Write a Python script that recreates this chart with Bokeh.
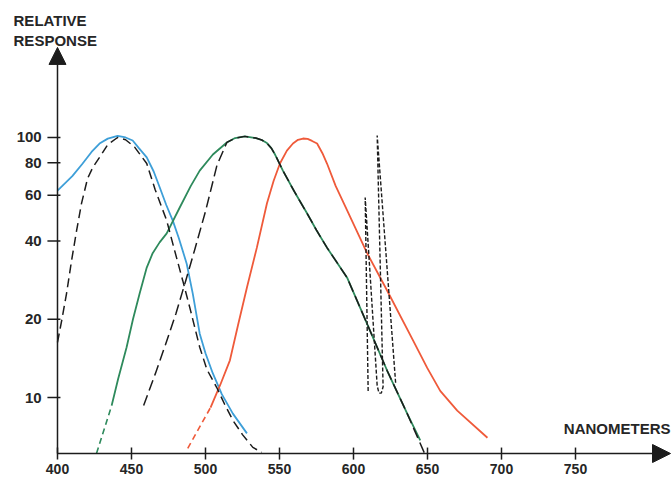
from bokeh.plotting import figure
from bokeh.models import Range1d, Arrow, NormalHead, Label
from bokeh.core.properties import value
from bokeh.embed import file_html
from bokeh.resources import INLINE

# ---- data ----
x_ticks = [400, 450, 500, 550, 600, 650, 700, 750]
x_tick_labels = ["400", "450", "500", "550", "600", "650", "700", "750"]
y_ticks = [10, 20, 40, 60, 80, 100]
y_tick_labels = ["10", "20", "40", "60", "80", "100"]

blue_x = [400, 410, 417, 423, 428.4, 434, 440.6, 446, 450.8, 455, 460.3, 465, 469.1, 473.5, 477.9,
          482, 487.3, 491.4, 496.1, 500, 504.9, 511, 518.5, 528]
blue_y = [62.5, 71, 79.4, 88, 94.8, 99, 101.5, 100, 97.4, 91, 83.8, 74, 64.2, 55, 47.9,
          41, 32.7, 25.1, 17.6, 14.8, 12.4, 10.3, 8.67, 7.28]

green_dash_x = [426.4, 436.6]
green_dash_y = [6.1, 9.31]
green_x = [436.6, 441, 446.7, 451, 455.5, 460.3, 464.3, 469, 473.8, 482.6, 490, 496.1, 505, 514.4,
           520, 526.6, 534, 538, 541.5, 544.5, 547, 552.3, 560, 568.6, 575, 582.1, 595.7, 609.2,
           622.7, 636.3, 645.1]
green_y = [9.31, 11.8, 15.6, 20, 25.1, 31.6, 35.9, 39.5, 42.8, 53.8, 65, 74.6, 86, 95.7,
           99.5, 101, 99.5, 97.8, 95.2, 91, 86, 74.6, 62, 51.1, 44, 37.7, 28.9, 19.2,
           12.7, 8.67, 6.84]

red_dash_x = [488, 503.4]
red_dash_y = [6.37, 9.15]
red_x = [503.4, 510, 516.5, 522, 528, 534.7, 541.5, 546, 550.3, 555, 559.1, 562.5, 565.9, 569, 572,
         575.4, 579, 582.1, 588, 595.7, 609.2, 622.7, 640.4, 649.8, 658.6, 670.1, 690.5]
red_y = [9.15, 11.2, 13.9, 19, 26.5, 37.7, 55.7, 68, 79.4, 89, 94.8, 98, 99.1, 98.8, 97,
         94.8, 87, 79.4, 65, 52.4, 35.9, 25.8, 16.5, 13.0, 10.6, 8.9, 7.0]

dash1_x = [400, 403, 406.1, 409.5, 412.9, 416.2, 420.3, 424, 428.4, 434, 440.6, 446, 452, 460.3, 466,
           473.8, 479, 484.6, 490, 496.1, 501, 507.7, 513, 518.5, 525, 532, 538]
dash1_y = [16.3, 20, 25.1, 33.6, 43.8, 55.7, 69.5, 77, 83.8, 94, 100, 98, 92, 79.4, 63,
           47.9, 37, 28.2, 21.5, 15.6, 12.8, 10.9, 9.4, 8.17, 7.2, 6.43, 6.15]

dash2_x = [458.2, 466, 473, 480, 486.7, 493, 500, 507.7, 514.4, 520, 526.6, 534, 538, 541.5, 544.5,
           547, 552.3, 560, 568.6, 575, 582.1, 595.7, 609.2, 622.7, 636.3, 648]
dash2_y = [9.31, 12.3, 16, 21, 28.2, 37.5, 52, 78, 95.7, 99.5, 101, 99.5, 97.8, 95.2, 91,
           86, 74.6, 62, 51.1, 44, 37.7, 28.9, 19.2, 12.7, 8.67, 6.1]

zig_x = [609.9, 607.9, 616.0, 617.2, 618.8, 620.0, 616.0, 628.5]
zig_y = [10.6, 58.8, 11.1, 10.4, 10.4, 11.0, 101.8, 11.3]

# ---- styling ----
BLUE = "#3e9fd8"
GREEN = "#2e8a5c"
RED = "#ef5a3a"
INK = "#1c1c1c"
TXT = "#262626"
FONT = "Liberation Sans"

# data extent of the whole canvas (frame fills the figure)
XL, XR = 361.49, 815.54
YB, YT = 4.838, 336.4
AX_X = 400          # y axis position
AX_Y = 6.09         # x axis position
Y_TOP = 222         # y-axis arrow tip
X_END = 814.2       # x-axis arrow tip

p = figure(width=672, height=479, y_axis_type="log",
           x_range=Range1d(XL, XR), y_range=Range1d(YB, YT),
           x_axis_location=None, y_axis_location=None,
           output_backend="svg", toolbar_location=None, min_border=0)
p.outline_line_color = None
p.background_fill_color = "white"
p.border_fill_color = "white"
p.xgrid.grid_line_color = None
p.ygrid.grid_line_color = None

# coloured curves
p.line(blue_x, blue_y, line_color=BLUE, line_width=1.8)
p.line(green_dash_x, green_dash_y, line_color=GREEN, line_width=1.6, line_dash="6 4")
p.line(green_x, green_y, line_color=GREEN, line_width=1.8)
p.line(red_dash_x, red_dash_y, line_color=RED, line_width=1.6, line_dash="6 4")
p.line(red_x, red_y, line_color=RED, line_width=1.8)

# black dashed curves
p.line(dash1_x, dash1_y, line_color=INK, line_width=1.5, line_dash="9 5")
p.line(dash2_x, dash2_y, line_color=INK, line_width=1.5, line_dash="11 5")
p.line(zig_x, zig_y, line_color=INK, line_width=1.4, line_dash="4 2")

# axes (lines with arrow heads)
p.add_layout(Arrow(end=NormalHead(size=17, fill_color=INK, line_color=INK, line_width=1),
                   x_start=AX_X, y_start=AX_Y, x_end=AX_X, y_end=Y_TOP,
                   line_color=INK, line_width=1.5))
p.add_layout(Arrow(end=NormalHead(size=18, fill_color=INK, line_color=INK, line_width=1),
                   x_start=AX_X, y_start=AX_Y, x_end=X_END, y_end=AX_Y,
                   line_color=INK, line_width=1.5))

# ticks
p.segment(x0=[393.2] * len(y_ticks), y0=y_ticks, x1=[402.0] * len(y_ticks), y1=y_ticks,
          line_color=INK, line_width=1.5)
p.segment(x0=x_ticks, y0=[6.42] * len(x_ticks), x1=x_ticks, y1=[5.77] * len(x_ticks),
          line_color=INK, line_width=1.5)

# tick labels
p.text(x=[389.3] * len(y_ticks), y=y_ticks, text=y_tick_labels,
       text_font=value(FONT), text_font_style="bold", text_font_size="15px",
       text_color=TXT, text_align="right", text_baseline="middle")
p.text(x=x_ticks, y=[5.30] * len(x_ticks), text=x_tick_labels,
       text_font=value(FONT), text_font_style="bold", text_font_size="14px",
       text_color=TXT, text_align="center", text_baseline="middle")

# axis titles
p.add_layout(Label(x=370.3, y=305, text="RELATIVE\nRESPONSE", text_font=FONT,
                   text_font_style="bold", text_font_size="15px", text_color=TXT,
                   text_align="left", text_baseline="top", text_line_height=1.18))
p.add_layout(Label(x=814.2, y=7.6, text="NANOMETERS", text_font=FONT,
                   text_font_style="bold", text_font_size="15px", text_color=TXT,
                   text_align="right", text_baseline="alphabetic"))

open("out.html", "w").write(file_html(p, INLINE))
